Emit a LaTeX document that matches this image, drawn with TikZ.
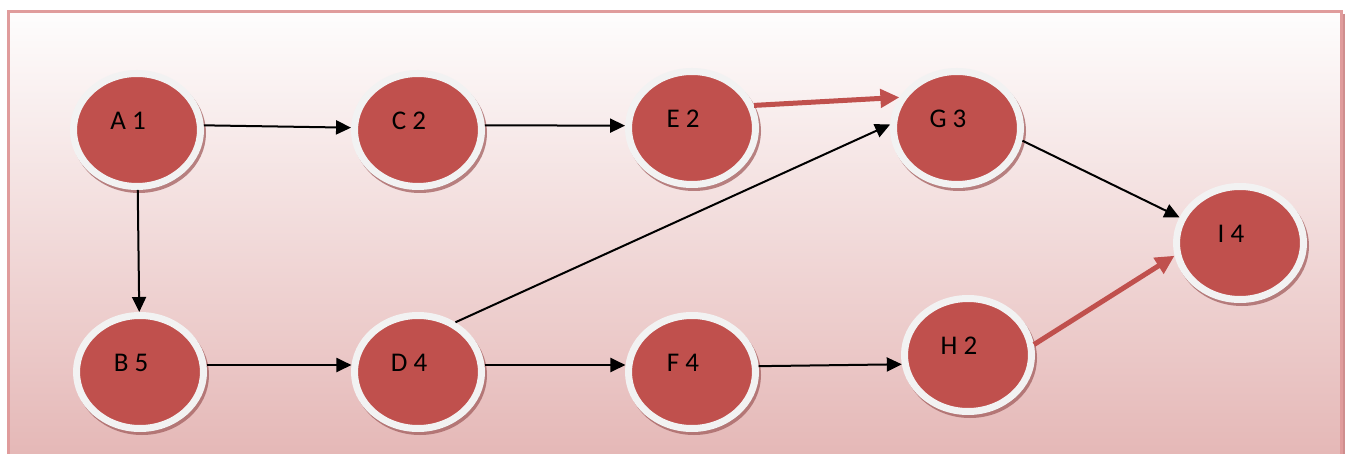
\documentclass[tikz,border=0pt]{standalone}
\usepackage{fontspec}
\setmainfont{Carlito}
\usetikzlibrary{arrows.meta,shadows,shapes.geometric}
\definecolor{nodered}{HTML}{C0504D}
\definecolor{ring}{HTML}{F2F2F2}
\definecolor{frameln}{HTML}{E09C9C}
\definecolor{frameshd}{HTML}{CF8E8E}
\definecolor{bgtop}{HTML}{FEFDFD}
\definecolor{bgbot}{HTML}{E5B8B7}
\definecolor{shad}{HTML}{A35F5F}
\begin{document}
\begin{tikzpicture}[x=1pt,y=-1pt,
  ev/.style={ellipse, fill=nodered, draw=ring, line width=7pt,
    minimum width=127pt, minimum height=113pt, inner sep=0pt,
    drop shadow={shadow xshift=2pt, shadow yshift=-3pt, fill=shad, draw=shad, line width=7pt, opacity=0.75}},
  lab/.style={font=\fontsize{27}{31}\selectfont, text=black, xshift=-9pt, yshift=9pt},
  blk/.style={draw=black, line width=2pt, -{Triangle[length=15pt,width=14pt]}},
  redarr/.style={draw=nodered, line width=5pt, -{Triangle[length=19pt,width=18pt]}}]
\useasboundingbox (0,0) rectangle (1349,454);
\fill[white] (0,0) rectangle (1349,454);
\shade[top color=bgtop, bottom color=bgbot] (8,12) rectangle (1341,454);
\draw[frameshd, line width=3pt] (1343,14) -- (1343,454);
\draw[frameln, line width=3pt] (8,460) -- (8,12) -- (1341,12) -- (1341,460);
\node[ev, label={[lab]center:A 1}] (A) at (137,130) {};
\node[ev, label={[lab]center:C 2}] (C) at (418,130) {};
\node[ev, label={[lab]center:E 2}] (E) at (692,128) {};
\node[ev, label={[lab]center:G 3}] (G) at (957,128) {};
\node[ev, label={[lab]center:I 4}] (I) at (1240,243) {};
\node[ev, label={[lab]center:B 5}] (B) at (140,372) {};
\node[ev, label={[lab]center:D 4}] (D) at (418,372) {};
\node[ev, label={[lab]center:F 4}] (F) at (692,372) {};
\node[ev, label={[lab]center:H 2}] (H) at (968,355) {};
\draw[blk] (A.4) -- (C.178);
\draw[blk] (C.4) -- (E.178);
\draw[redarr] (E.20) -- (G.152);
\draw[blk] (G.-11) -- (I.157);
\draw[blk] (A) -- (B);
\draw[blk] (B.6) -- (D.174);
\draw[blk] (D.53) -- (G.177);
\draw[blk] (D.6) -- (F.174);
\draw[blk] (F.5) -- (H.188);
\draw[redarr] (H.9) -- (I.191);
\end{tikzpicture}
\end{document}
